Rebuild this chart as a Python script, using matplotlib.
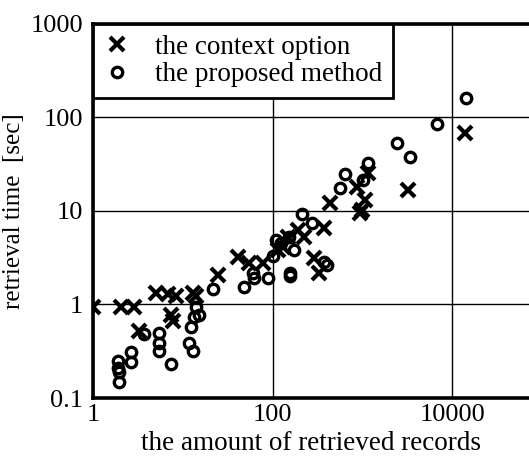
import matplotlib.pyplot as plt
import matplotlib.ticker as mticker

plt.rcParams['font.family'] = ['Liberation Serif', 'DejaVu Serif']

# the context option (x markers)
ctx_x = [1.0, 2.05, 2.85, 3.24, 5.0, 6.8, 8.4, 7.4, 7.7, 12.9, 13.9, 24.5, 40.8,
         54, 79, 114, 147, 190, 221, 132, 286, 325, 369, 441, 950, 1000, 1080,
         880, 1166, 3240, 13900]
ctx_y = [0.93, 0.93, 0.93, 0.52, 1.34, 1.28, 1.22, 0.78, 0.66, 1.34, 1.22, 2.08, 3.24,
         2.8, 2.8, 3.85, 5.3, 6.3, 5.3, 4.1, 3.16, 2.19, 6.6, 12.2, 9.5, 10.2, 13.1,
         18, 25.4, 16.7, 67.6]

# the proposed method (o markers)
prop_x = [1.9, 1.9, 1.95, 1.95, 2.64, 2.64, 3.69, 5.4, 5.4, 5.4, 7.4, 11.7, 12.9,
          12.3, 13.2, 13.9, 15.1, 21.5, 47.6, 61.5, 60, 88, 158, 369, 123, 171,
          215, 278, 151, 108, 408, 158, 570, 647, 1166, 1026, 2450, 3410, 6810,
          14300, 100]
prop_y = [0.25, 0.21, 0.19, 0.15, 0.31, 0.24, 0.48, 0.50, 0.39, 0.32, 0.23, 0.39, 0.32,
          0.58, 0.73, 0.95, 0.78, 1.48, 1.55, 1.94, 2.19, 1.94, 2.19, 2.87, 4.57, 3.85,
          9.3, 7.45, 5.3, 4.9, 2.67, 1.99, 17.6, 24.8, 32.4, 21.4, 52.9, 37.5, 84,
          163, 3.3]

x_ticks = [1, 100, 10000]
x_labels = ['1', '100', '10000']
y_ticks = [0.1, 1, 10, 100, 1000]
y_labels = ['0.1', '1', '10', '100', '1000']

fig = plt.figure(figsize=(5.29, 4.58), dpi=100)
ax = fig.add_axes([0.176, 0.131, 0.824, 0.817])

ax.plot(ctx_x, ctx_y, linestyle='none', marker='x', color='black',
        markersize=10.5, markeredgewidth=3.0, label='the context option')
ax.plot(prop_x, prop_y, linestyle='none', marker='o', markerfacecolor='none',
        markeredgecolor='black', markersize=7.5, markeredgewidth=2.4,
        label='the proposed method')

ax.set_xscale('log')
ax.set_yscale('log')
ax.set_xlim(1, 10 ** 4.856)
ax.set_ylim(0.1, 1000)

ax.xaxis.set_major_locator(mticker.FixedLocator(x_ticks))
ax.xaxis.set_minor_locator(mticker.NullLocator())
ax.yaxis.set_major_locator(mticker.FixedLocator(y_ticks))
ax.yaxis.set_minor_locator(mticker.NullLocator())
ax.set_xticklabels(x_labels)
ax.set_yticklabels(y_labels)
ax.tick_params(length=0, labelsize=19)
ax.tick_params(axis='x', pad=4)
ax.tick_params(axis='y', pad=7)

ax.grid(True, color='black', linewidth=1.0)
ax.set_axisbelow(True)

for s in ['left', 'top', 'bottom']:
    ax.spines[s].set_linewidth(2.6)
ax.spines['right'].set_visible(False)

ax.set_xlabel('the amount of retrieved records', fontsize=19.5, labelpad=4)
ax.set_ylabel('retrieval time  [sec]', fontsize=18, labelpad=4)

leg = ax.legend(loc='upper left', borderaxespad=0, fancybox=False,
                fontsize=19.5, handlelength=1.0, handletextpad=0.9,
                borderpad=0.4, labelspacing=0.1, framealpha=1)
leg.get_frame().set_edgecolor('black')
leg.get_frame().set_linewidth(2)

fig.savefig('out.png', dpi=100)
